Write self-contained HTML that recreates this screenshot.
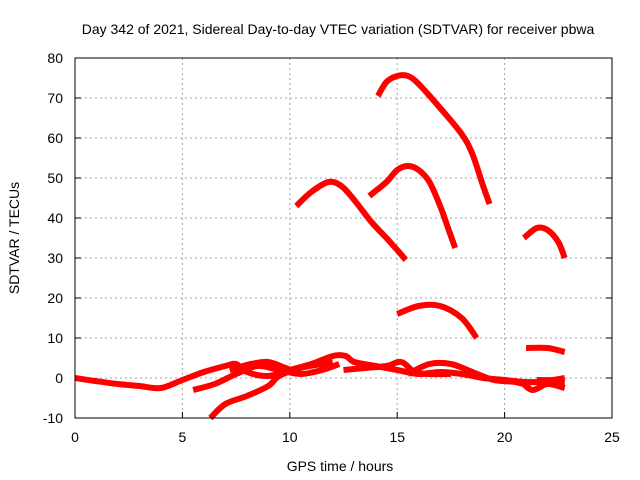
<!DOCTYPE html>
<html><head><meta charset="utf-8"><style>
body{margin:0;background:#fff}
svg{display:block;font-family:"Liberation Sans",sans-serif}
</style></head><body>
<svg id="chart" width="640" height="480" viewBox="0 0 640 480">
<rect width="640" height="480" fill="#fff"/>
<text x="338" y="34" font-size="14" text-anchor="middle">Day 342 of 2021, Sidereal Day-to-day VTEC variation (SDTVAR) for receiver pbwa</text>
<g id="grid"></g><g id="axes"></g><g id="series"></g>
<rect x="75" y="58" width="537" height="360" fill="none" stroke="#000" stroke-width="1"/>
<text x="340" y="471" font-size="14" text-anchor="middle">GPS time / hours</text>
<text transform="translate(19,238) rotate(-90)" font-size="14" text-anchor="middle">SDTVAR / TECUs</text>
</svg>
<script>
const xTicks=[0,5,10,15,20,25];
const yTicks=[-10,0,10,20,30,40,50,60,70,80];
const track1=[[0,0],[1,-0.8],[2,-1.5],[3,-2],[4,-2.5],[5,-0.5],[6,1.5],[7,3],[7.5,3.5],[8,1.5],[9,0.5],[10,2],[11,3.5],[12,5.5],[12.6,5.5],[13,4],[14,3],[15,2],[16,1],[17,1.5],[18,1],[19,0],[20,-0.5],[21,-1],[22,-1],[22.8,-1]];
const track2=[[5.5,-3],[6.5,-1.5],[7.5,1],[8.5,3],[9.5,2],[10.5,1],[11.5,2],[12.3,3.5]];
const track3=[[6.3,-10],[7,-6.5],[8,-4.5],[9,-2],[9.5,0.5],[10.5,2.5],[11.5,3.5],[12,4]];
const track4=[[7.2,2],[8.2,3.5],[9,4],[9.8,2.5],[10.3,1.5]];
const track5=[[12.5,2],[13.5,2.5],[14.5,3],[15.2,4],[15.8,1.5],[16.5,1],[17.5,1]];
const track6=[[15.5,1],[16.5,3.5],[17.5,3.5],[18.5,1.5],[19.5,-0.5],[20.5,-1],[21.2,-2]];
const track7=[[21,7.5],[22,7.5],[22.8,6.5]];
const track8=[[15,16],[16,18],[17,18],[18,15],[18.7,10]];
const track9=[[10.3,43],[11,46.5],[11.8,49],[12.4,48],[13,44.5],[13.8,39],[14.5,35],[15,32],[15.4,29.5]];
const track10=[[13.7,45.5],[14.5,49],[15,52],[15.5,53],[16,52],[16.5,49],[17,43],[17.4,37],[17.7,32.5]];
const track11=[[14.1,70.5],[14.5,74],[15,75.5],[15.5,75.5],[16,73.5],[17,67.5],[18,61],[18.5,56],[19,48],[19.3,43.5]];
const track12=[[20.9,35],[21.5,37.5],[22,37],[22.5,34],[22.8,30]];
const track13=[[20.8,-1],[21.3,-3],[22,-1.5],[22.8,-2.5]];
const track14=[[21.5,-0.5],[22.2,-0.5],[22.8,0]];
const tracks=[track1,track2,track3,track4,track5,track6,track7,track8,track9,track10,track11,track12,track13,track14];
const X=h=>75+h*537/25, Y=v=>58+(80-v)*4;
const NS="http://www.w3.org/2000/svg";
const g=document.getElementById('grid'), ax=document.getElementById('axes'), s=document.getElementById('series');
function mk(t,a,p){const e=document.createElementNS(NS,t);for(const k in a)e.setAttribute(k,a[k]);p.appendChild(e);return e;}
function smooth(tr){
  const P=tr.map(d=>[X(d[0]),Y(d[1])]);
  let d='M'+P[0][0]+','+P[0][1];
  for(let i=0;i<P.length-1;i++){
    const p0=P[Math.max(0,i-1)],p1=P[i],p2=P[i+1],p3=P[Math.min(P.length-1,i+2)];
    const c1=[p1[0]+(p2[0]-p0[0])/6,p1[1]+(p2[1]-p0[1])/6];
    const c2=[p2[0]-(p3[0]-p1[0])/6,p2[1]-(p3[1]-p1[1])/6];
    d+=' C'+c1[0]+','+c1[1]+' '+c2[0]+','+c2[1]+' '+p2[0]+','+p2[1];
  }
  return d;
}
xTicks.forEach(t=>{
  if(t>0&&t<25){const l=mk('line',{x1:X(t),x2:X(t),y1:58,y2:418,stroke:'#a0a0a0','stroke-dasharray':'2,3'},g);
  
  }
  const tk=mk('line',{x1:X(t),x2:X(t),y1:418,y2:412,stroke:'#000'},ax);
  
  
  const tx=mk('text',{x:X(t),y:442,'font-size':14,'text-anchor':'middle'},ax);tx.textContent=t;
  
  
});
yTicks.forEach(t=>{
  if(t>-10&&t<80){const l=mk('line',{x1:75,x2:612,y1:Y(t),y2:Y(t),stroke:'#a0a0a0','stroke-dasharray':'2,3'},g);
  
  }
  const tk=mk('line',{x1:75,x2:81,y1:Y(t),y2:Y(t),stroke:'#000'},ax);
  
  
  const tk2=mk('line',{x1:606,x2:612,y1:Y(t),y2:Y(t),stroke:'#000'},ax);
  
  
  const tx=mk('text',{x:63,y:Y(t)+5,'font-size':14,'text-anchor':'end'},ax);tx.textContent=t;
  
  
});
tracks.forEach(tr=>{
  const p=mk('path',{d:smooth(tr),fill:'none',stroke:'#ff0000','stroke-width':6,'stroke-linejoin':'round','stroke-linecap':'butt'},s);
  
  
});
</script>
</body></html>
